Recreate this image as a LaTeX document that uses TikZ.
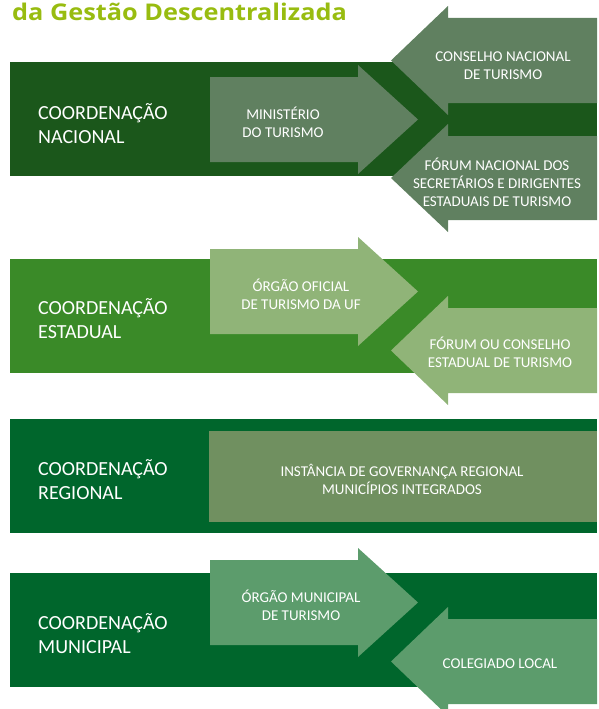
\documentclass[tikz,border=0pt]{standalone}
\usepackage{fontspec}
\setmainfont{Carlito}
\newfontfamily\titlefont{Open Sans}[FakeStretch=1.1]
\definecolor{titulo}{RGB}{152,188,16}
\definecolor{faixaN}{RGB}{27,87,27}
\definecolor{setaN}{RGB}{96,128,96}
\definecolor{faixaE}{RGB}{58,138,40}
\definecolor{setaE}{RGB}{144,180,120}
\definecolor{faixaR}{RGB}{0,102,44}
\definecolor{caixaR}{RGB}{112,144,96}
\definecolor{setaM}{RGB}{92,156,108}
\begin{document}
\begin{tikzpicture}[x=1pt,y=-1pt,
  rotulo/.style={text=white,font=\fontsize{20}{24}\selectfont,align=left,anchor=west,inner sep=0pt},
  caixa/.style={text=white,font=\fontsize{15}{18}\selectfont,align=center,inner sep=0pt}]
\useasboundingbox (0,0) rectangle (598,709);
% título
\node[anchor=base west,inner sep=0pt,text=titulo,font=\titlefont\bfseries\fontsize{23}{27}\selectfont] (titulo) at (12,21) {da Gestão Descentralizada};
% faixas
\fill[faixaN] (10,62) rectangle (597,176);
\fill[faixaE] (10,259) rectangle (597,373);
\fill[faixaR] (10,419) rectangle (597,533);
\fill[faixaR] (10,573) rectangle (597,687);
% nível nacional
\fill[setaN] (210,77) -- (358,77) -- (358,65) -- (418,119.5) -- (358,174) -- (358,162) -- (210,162) -- cycle;
\fill[setaN] (597,18) -- (448,18) -- (448,6) -- (391,60.5) -- (448,115) -- (448,103) -- (597,103) -- cycle;
\fill[setaN] (597,136) -- (448,136) -- (448,124) -- (391,178) -- (448,232) -- (448,220) -- (597,220) -- cycle;
\node[rotulo] (nacional) at (38,124) {COORDENAÇÃO\\NACIONAL};
\node[caixa] (ministerio) at (283,122) {MINISTÉRIO\\DO TURISMO};
\node[caixa] (conselhoN) at (503,65.5) {CONSELHO NACIONAL\\DE TURISMO};
\node[caixa] (forumN) at (497,182) {FÓRUM NACIONAL DOS\\SECRETÁRIOS E DIRIGENTES\\ESTADUAIS DE TURISMO};
% nível estadual
\fill[setaE] (210,249) -- (358,249) -- (358,237) -- (418,291.5) -- (358,346) -- (358,334) -- (210,334) -- cycle;
\fill[setaE] (597,308) -- (448,308) -- (448,296) -- (391,350.5) -- (448,405) -- (448,393) -- (597,393) -- cycle;
\node[rotulo] (estadual) at (38,319) {COORDENAÇÃO\\ESTADUAL};
\node[caixa] (orgaoE) at (301,294.5) {ÓRGÃO OFICIAL\\DE TURISMO DA UF};
\node[caixa] (forumE) at (500,352) {FÓRUM OU CONSELHO\\ESTADUAL DE TURISMO};
% nível regional
\fill[caixaR] (209,431) rectangle (597,522);
\node[rotulo] (regional) at (38,479.5) {COORDENAÇÃO\\REGIONAL};
\node[caixa] (instancia) at (402,479) {INSTÂNCIA DE GOVERNANÇA REGIONAL\\MUNICÍPIOS INTEGRADOS};
% nível municipal
\fill[setaM] (210,560) -- (358,560) -- (358,548) -- (418,602.5) -- (358,657) -- (358,645) -- (210,645) -- cycle;
\fill[setaM] (597,619) -- (448,619) -- (448,607) -- (391,661.5) -- (448,716) -- (448,704) -- (597,704) -- cycle;
\node[rotulo] (municipal) at (38,634) {COORDENAÇÃO\\MUNICIPAL};
\node[caixa] (orgaoM) at (301,605) {ÓRGÃO MUNICIPAL\\DE TURISMO};
\node[caixa,anchor=base] (colegiado) at (500,668) {COLEGIADO LOCAL};
\end{tikzpicture}
\end{document}
